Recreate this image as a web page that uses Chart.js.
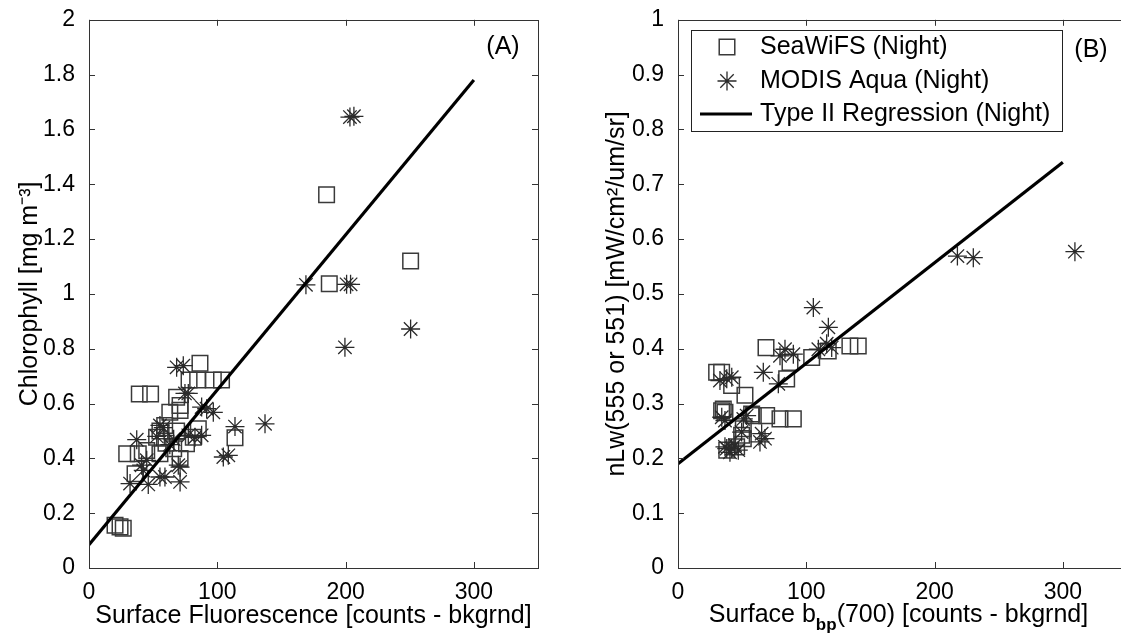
<!DOCTYPE html>
<html>
<head>
<meta charset="utf-8">
<script src="https://cdn.jsdelivr.net/npm/chart.js@4/dist/chart.umd.min.js"></script>
<style>
  html, body { margin: 0; padding: 0; background: #fff; overflow: hidden; width: 1121px; height: 641px; }
  canvas { position: absolute; top: 0; }
  #chart-a { left: 0; }
  #chart-b { left: 590px; }
</style>
</head>
<body>
<canvas id="chart-a" width="560" height="641"></canvas>
<canvas id="chart-b" width="560" height="641"></canvas>
<script>
// Panel A: chlorophyll vs surface fluorescence
var seaA_x = [86.5, 78, 84.7, 96.9, 103.3, 39.2, 48, 68.3, 71, 63, 71, 59, 55.3, 52.7, 81.3, 85.2, 68.3,
  29.4, 38.4, 45, 55.3, 71, 35.9, 113.8, 20.3, 24.2, 26.7, 76, 60, 66, 185.2, 250.7, 187.3];
var seaA_y = [0.747, 0.686, 0.686, 0.686, 0.686, 0.635, 0.635, 0.623, 0.593, 0.568, 0.575, 0.52, 0.50, 0.477, 0.477, 0.508, 0.50,
  0.417, 0.417, 0.429, 0.417, 0.399, 0.344, 0.475, 0.156, 0.15, 0.145, 0.453, 0.455, 0.435, 1.362, 1.12, 1.037];
var modA_x = [68.3, 73.5, 74.8, 77.4, 87.8, 91.7, 96.9, 57.9, 55.3, 52.8, 77.4, 82.6, 87.8, 37.2, 113.8, 137.2,
  104.7, 108.6, 69.6, 71, 41, 45, 55.3, 59.2, 71, 46.2, 32, 42.3, 63, 66,
  169.1, 200.8, 203.9, 199.5, 250.7, 203.4, 206.5];
var modA_y = [0.732, 0.738, 0.637, 0.637, 0.587, 0.581, 0.568, 0.512, 0.52, 0.48, 0.484, 0.477, 0.484, 0.468, 0.516, 0.526,
  0.405, 0.411, 0.375, 0.368, 0.375, 0.393, 0.332, 0.332, 0.314, 0.305, 0.308, 0.356, 0.45, 0.47,
  1.033, 1.035, 1.035, 0.805, 0.872, 1.645, 1.648];
var fitA_x = [0, 300];
var fitA_y = [0.085, 1.78];

// Panel B: nLw vs surface bbp(700)
var seaB_x = [68.6, 134, 140.5, 117.1, 104.2, 87.3, 84.7, 30.1, 34, 41.8, 52.2, 35.3, 36.6, 57.4, 58.7, 69.1, 79.5, 89.9,
  49.6, 50.9, 38, 45.7, 34, 50.9];
var seaB_y = [0.402, 0.405, 0.405, 0.396, 0.384, 0.375, 0.345, 0.357, 0.357, 0.333, 0.315, 0.29, 0.284, 0.281, 0.278, 0.278, 0.272, 0.272,
  0.242, 0.236, 0.215, 0.221, 0.287, 0.254];
var modB_x = [105.5, 117.2, 115.9, 119.8, 109.4, 83.4, 89.9, 79.5, 66.5, 78.2, 32.7, 38, 41.9, 36.6, 34.1, 53.5,
  49.6, 65.2, 67.8, 63.9, 36.6, 40.5, 47, 44.4, 38, 41.9, 50.9, 217.8, 230.2, 309.4];
var modB_y = [0.475, 0.439, 0.409, 0.402, 0.399, 0.399, 0.39, 0.387, 0.357, 0.336, 0.342, 0.345, 0.348, 0.269, 0.275, 0.278,
  0.248, 0.245, 0.236, 0.23, 0.221, 0.211, 0.215, 0.224, 0.218, 0.218, 0.272, 0.569, 0.566, 0.577];
var fitB_x = [0, 300];
var fitB_y = [0.19, 0.74];

var xTicks = [0, 100, 200, 300];
var yTicksA = [0, 0.2, 0.4, 0.6, 0.8, 1, 1.2, 1.4, 1.6, 1.8, 2];
var yTicksB = [0, 0.1, 0.2, 0.3, 0.4, 0.5, 0.6, 0.7, 0.8, 0.9, 1];

var legendLabels = ["SeaWiFS (Night)", "MODIS Aqua (Night)", "Type II Regression (Night)"];

var FONT = '"Liberation Sans", Arial, sans-serif';
Chart.defaults.font.family = FONT;
Chart.defaults.color = "#000";

function pts(xs, ys) {
  return xs.map(function (x, i) { return { x: x, y: ys[i] }; });
}

function datasets(sx, sy, mx, my, fx, fy) {
  return [
    { label: legendLabels[2], type: "line", data: pts(fx, fy), borderColor: "#000", borderWidth: 3.2,
      pointRadius: 0, showLine: true, order: 0 },
    { label: legendLabels[1], data: pts(mx, my), pointStyle: "star", pointRadius: 9.5,
      borderColor: "#2a2a2a", borderWidth: 1.3, backgroundColor: "transparent", order: 1 },
    { label: legendLabels[0], data: pts(sx, sy), pointStyle: "rect", pointRadius: 11,
      borderColor: "#3a3a3a", borderWidth: 1.5, backgroundColor: "transparent", order: 2 }
  ];
}

// box round the plot with inward ticks on all four sides
var frame = {
  id: "frame",
  afterDraw: function (chart) {
    var ctx = chart.ctx, a = chart.chartArea;
    var xs = chart.scales.x, ys = chart.scales.y;
    ctx.save();
    ctx.strokeStyle = "#333";
    ctx.lineWidth = 1;
    ctx.strokeRect(Math.round(a.left) + 0.5, Math.round(a.top) + 0.5,
      Math.round(a.right - a.left), Math.round(a.bottom - a.top));
    ctx.beginPath();
    xs.ticks.forEach(function (t) {
      var p = Math.round(xs.getPixelForValue(t.value)) + 0.5;
      ctx.moveTo(p, a.bottom); ctx.lineTo(p, a.bottom - 6);
      ctx.moveTo(p, a.top); ctx.lineTo(p, a.top + 6);
    });
    ys.ticks.forEach(function (t) {
      var p = Math.round(ys.getPixelForValue(t.value)) + 0.5;
      ctx.moveTo(a.left, p); ctx.lineTo(a.left + 6, p);
      ctx.moveTo(a.right, p); ctx.lineTo(a.right - 6, p);
    });
    ctx.stroke();
    ctx.restore();
  }
};

function scales(yTicks, ymax, yTitle, xTitle, yWidth, titlePad) {
  return {
    x: {
      type: "linear", min: 0, max: 350,
      grid: { display: false }, border: { display: false },
      afterBuildTicks: function (s) { s.ticks = xTicks.map(function (v) { return { value: v }; }); },
      afterFit: function (s) { s.height = 73; },
      ticks: { font: { size: 23 }, padding: 3, callback: function (v) { return String(v); } },
      title: { display: !!xTitle, text: xTitle || "", font: { size: 25 }, padding: { top: 0, bottom: 10 } }
    },
    y: {
      type: "linear", min: 0, max: ymax,
      grid: { display: false }, border: { display: false },
      afterBuildTicks: function (s) { s.ticks = yTicks.map(function (v) { return { value: v }; }); },
      afterFit: function (s) { s.width = yWidth; },
      ticks: { font: { size: 23 }, padding: 6, callback: function (v) { return String(v); } },
      title: { display: true, text: yTitle, font: { size: 25 }, padding: { top: titlePad, bottom: 0 } }
    }
  };
}

var labelA = {
  id: "labelA",
  afterDraw: function (chart) {
    var ctx = chart.ctx;
    ctx.save();
    ctx.font = "25px " + FONT;
    ctx.fillStyle = "#000";
    ctx.textAlign = "center";
    ctx.textBaseline = "middle";
    ctx.fillText("(A)", 503, 47);
    ctx.restore();
  }
};

new Chart(document.getElementById("chart-a").getContext("2d"), {
  type: "scatter",
  data: { datasets: datasets(seaA_x, seaA_y, modA_x, modA_y, fitA_x, fitA_y) },
  options: {
    responsive: false, animation: false, devicePixelRatio: 1,
    layout: { padding: { top: 18, right: 22, left: 0, bottom: 0 } },
    plugins: { legend: { display: false }, tooltip: { enabled: false } },
    scales: scales(yTicksA, 2, "Chlorophyll [mg m\u207B\u00B3]", "Surface Fluorescence [counts - bkgrnd]", 89, 15)
  },
  plugins: [frame, labelA]
});

// legend, panel letter and the subscripted x title of panel B
var extrasB = {
  id: "extrasB",
  afterDraw: function (chart) {
    var ctx = chart.ctx, a = chart.chartArea;
    var off = 590;
    ctx.save();
    ctx.fillStyle = "#000";
    ctx.font = "25px " + FONT;
    ctx.textBaseline = "middle";
    ctx.textAlign = "center";
    ctx.fillText("(B)", 1091 - off, 50);

    // legend box
    ctx.fillStyle = "#fff";
    ctx.fillRect(691 - off, 30, 371, 101);
    ctx.strokeStyle = "#222";
    ctx.lineWidth = 1;
    ctx.strokeRect(691.5 - off, 30.5, 371, 101);
    var rows = [47, 81, 114];
    var ds = chart.data.datasets;
    ctx.strokeStyle = ds[2].borderColor; ctx.lineWidth = 1.5;
    Chart.helpers.drawPoint(ctx, { pointStyle: "rect", radius: 11, borderWidth: 1.5 }, 727 - off, rows[0]);
    ctx.strokeStyle = ds[1].borderColor; ctx.lineWidth = 1.3;
    Chart.helpers.drawPoint(ctx, { pointStyle: "star", radius: 9.5, borderWidth: 1.3 }, 727 - off, rows[1]);
    ctx.strokeStyle = "#000"; ctx.lineWidth = 3.2;
    ctx.beginPath();
    ctx.moveTo(700 - off, rows[2]); ctx.lineTo(752 - off, rows[2]);
    ctx.stroke();
    ctx.fillStyle = "#000";
    ctx.textAlign = "left";
    ctx.font = "25px " + FONT;
    legendLabels.forEach(function (t, i) { ctx.fillText(t, 760 - off, rows[i]); });

    // x title with subscript
    var p1 = "Surface b", p2 = "bp", p3 = "(700) [counts - bkgrnd]";
    ctx.font = "25px " + FONT;
    var w1 = ctx.measureText(p1).width, w3 = ctx.measureText(p3).width;
    ctx.font = "bold 17px " + FONT;
    var w2 = ctx.measureText(p2).width;
    var x = (a.left + a.right) / 2 - 4 - (w1 + w2 + w3) / 2;
    var y = 615;
    ctx.font = "25px " + FONT;
    ctx.fillText(p1, x, y);
    ctx.font = "bold 17px " + FONT;
    ctx.fillText(p2, x + w1, y + 10);
    ctx.font = "25px " + FONT;
    ctx.fillText(p3, x + w1 + w2, y);
    ctx.restore();
  }
};

new Chart(document.getElementById("chart-b").getContext("2d"), {
  type: "scatter",
  data: { datasets: datasets(seaB_x, seaB_y, modB_x, modB_y, fitB_x, fitB_y) },
  options: {
    responsive: false, animation: false, devicePixelRatio: 1,
    layout: { padding: { top: 18, right: 23, left: 0, bottom: 0 } },
    plugins: { legend: { display: false }, tooltip: { enabled: false } },
    scales: scales(yTicksB, 1, "nLw(555 or 551) [mW/cm\u00B2/um/sr]", "", 88, 12)
  },
  plugins: [frame, extrasB]
});
</script>
</body>
</html>
